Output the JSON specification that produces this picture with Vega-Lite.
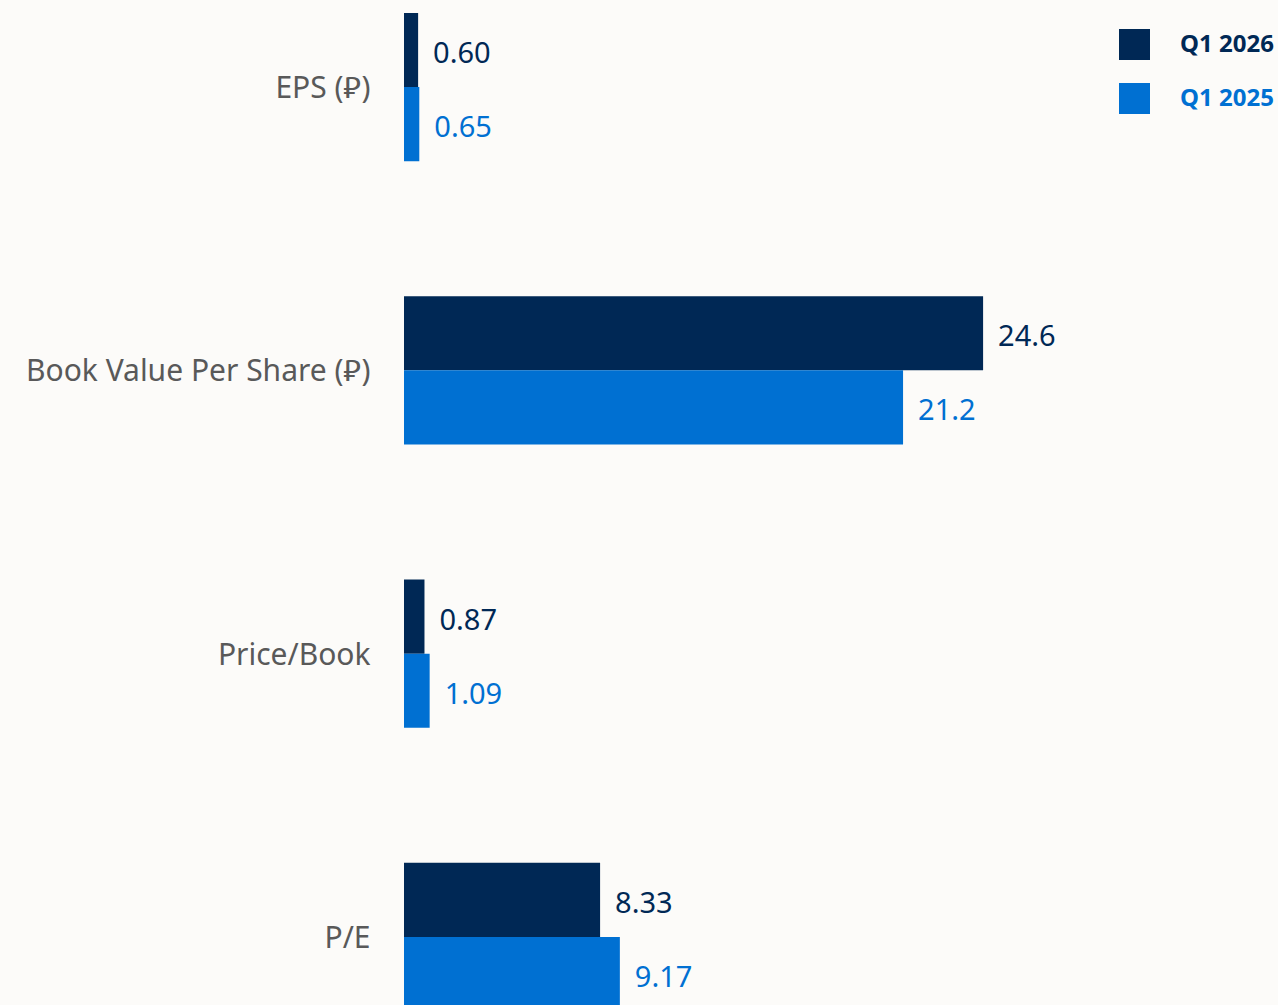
{
  "$schema": "https://vega.github.io/schema/vega-lite/v6.json",
  "width": 871,
  "height": 1024,
  "autosize": {"type": "none"},
  "padding": {"left": 404, "top": 0, "right": 3, "bottom": 0},
  "background": "#FCFBF9",
  "config": {
    "view": {"stroke": null},
    "font": "Noto Sans"
  },
  "data": {
    "values": [
      {"metric": "EPS (\u20C1)", "series": "Q1 2026", "value": 0.60, "label": "0.60"},
      {"metric": "EPS (\u20C1)", "series": "Q1 2025", "value": 0.65, "label": "0.65"},
      {"metric": "Book Value Per Share (\u20C1)", "series": "Q1 2026", "value": 24.6, "label": "24.6"},
      {"metric": "Book Value Per Share (\u20C1)", "series": "Q1 2025", "value": 21.2, "label": "21.2"},
      {"metric": "Price/Book", "series": "Q1 2026", "value": 0.87, "label": "0.87"},
      {"metric": "Price/Book", "series": "Q1 2025", "value": 1.09, "label": "1.09"},
      {"metric": "P/E", "series": "Q1 2026", "value": 8.33, "label": "8.33"},
      {"metric": "P/E", "series": "Q1 2025", "value": 9.17, "label": "9.17"}
    ]
  },
  "encoding": {
    "y": {
      "field": "metric",
      "type": "nominal",
      "sort": null,
      "scale": {"paddingInner": 0.477, "paddingOuter": 0.046},
      "axis": {
        "title": null,
        "domain": false,
        "ticks": false,
        "labelPadding": 34,
        "labelFontSize": 30,
        "labelColor": "#595959",
        "labelFont": "Noto Sans",
        "labelOffset": 2,
        "labelLimit": 500
      }
    },
    "yOffset": {
      "field": "series",
      "type": "nominal",
      "sort": ["Q1 2026", "Q1 2025"],
      "scale": {"paddingInner": 0, "paddingOuter": 0}
    },
    "x": {
      "field": "value",
      "type": "quantitative",
      "scale": {"domain": [0, 37], "nice": false},
      "axis": null
    },
    "color": {
      "field": "series",
      "type": "nominal",
      "sort": ["Q1 2026", "Q1 2025"],
      "scale": {"domain": ["Q1 2026", "Q1 2025"], "range": ["#002855", "#0070D2"]},
      "legend": {
        "title": null,
        "orient": "none",
        "legendX": 715,
        "legendY": 29,
        "padding": 0,
        "symbolType": "square",
        "symbolSize": 961,
        "symbolStrokeWidth": 0,
        "symbolOpacity": 1,
        "labelFontSize": 24,
        "labelFontWeight": "bold",
        "labelFont": "Noto Sans",
        "labelOffset": 30,
        "rowPadding": 23,
        "encode": {
          "labels": {
            "update": {
              "fill": {"signal": "datum.label == 'Q1 2026' ? '#002855' : '#0070D2'"}
            }
          }
        }
      }
    }
  },
  "layer": [
    {"mark": {"type": "bar"}},
    {
      "mark": {"type": "text", "align": "left", "baseline": "middle", "dx": 15, "dy": 4, "fontSize": 29, "font": "Noto Sans"},
      "encoding": {"text": {"field": "label"}}
    }
  ]
}
